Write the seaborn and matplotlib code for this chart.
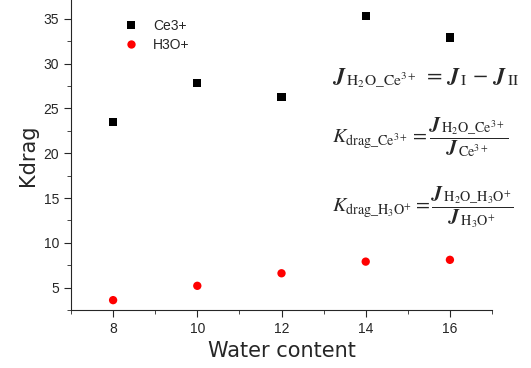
import numpy as np
import pandas as pd
import seaborn as sns
import matplotlib
matplotlib.use("Agg")
from matplotlib import pyplot as plt
from matplotlib.ticker import MultipleLocator

# values
water = [8, 10, 12, 14, 16]
ce3 = [23.5, 27.8, 26.3, 35.3, 32.9]
h3o = [3.6, 5.2, 6.6, 7.9, 8.1]

df = pd.DataFrame({
    "water": water * 2,
    "kdrag": ce3 + h3o,
    "ion": ["Ce3+"] * len(water) + ["H3O+"] * len(water),
})

sns.set_style("ticks")
plt.rcParams["font.family"] = ["Liberation Sans", "DejaVu Sans"]
plt.rcParams["mathtext.fontset"] = "stix"

fig = plt.figure(figsize=(5.31, 3.68), dpi=100)
ax = fig.add_axes([0.1337, 0.1576, 0.7929, 0.8424])

sns.scatterplot(data=df, x="water", y="kdrag", hue="ion", style="ion",
                palette={"Ce3+": "black", "H3O+": "red"},
                markers={"Ce3+": "s", "H3O+": "o"},
                s=36, linewidth=0, ax=ax)

ax.set_xlim(7, 17)
ax.set_ylim(2.5, 37.1)
ax.xaxis.set_major_locator(MultipleLocator(2))
ax.xaxis.set_minor_locator(MultipleLocator(1))
ax.yaxis.set_major_locator(MultipleLocator(5))
ax.yaxis.set_minor_locator(MultipleLocator(2.5))
ax.tick_params(which="major", direction="out", length=5, labelsize=10)
ax.tick_params(which="minor", direction="out", length=3)
sns.despine(ax=ax)

ax.set_xlabel("Water content", fontsize=15, family="DejaVu Sans")
ax.set_ylabel("Kdrag", fontsize=15, family="DejaVu Sans")

leg = ax.legend(title=None, frameon=False, loc="upper left",
                bbox_to_anchor=(0.08, 0.98), fontsize=10,
                handletextpad=0.6, labelspacing=0.35)

eq_kw = dict(transform=fig.transFigure, ha="left", va="center")
fig.text(0.625, 0.788,
         r"$\boldsymbol{J}_{\,\mathrm{H_2O\_Ce^{3+}}} \;=\, \boldsymbol{J}_{\,\mathrm{I}} \,-\, \boldsymbol{J}_{\,\mathrm{II}}$",
         fontsize=16, **eq_kw)
fig.text(0.625, 0.628,
         r"$K_{\mathrm{drag\_Ce^{3+}}} = \dfrac{\boldsymbol{J}_{\,\mathrm{H_2O\_Ce^{3+}}}}{\boldsymbol{J}_{\,\mathrm{Ce^{3+}}}}$",
         fontsize=14.5, **eq_kw)
fig.text(0.625, 0.4375,
         r"$K_{\mathrm{drag\_H_3O^{+}}} = \dfrac{\boldsymbol{J}_{\,\mathrm{H_2O\_H_3O^{+}}}}{\boldsymbol{J}_{\,\mathrm{H_3O^{+}}}}$",
         fontsize=14.5, **eq_kw)

fig.savefig("out.png", dpi=100)
